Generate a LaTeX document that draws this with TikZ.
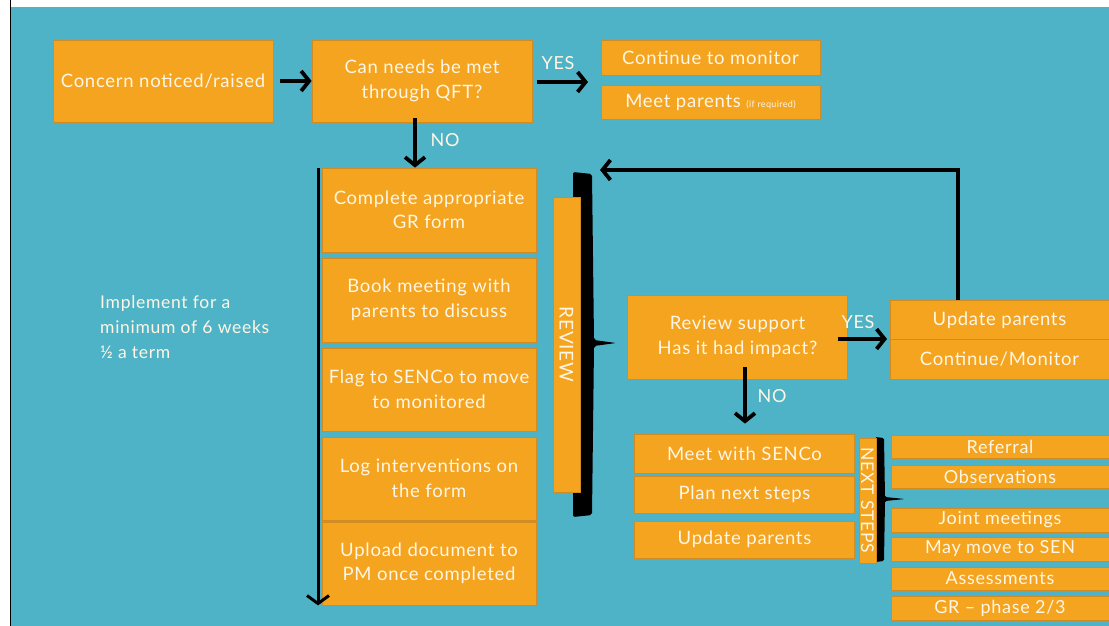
\documentclass[tikz,border=0pt]{standalone}
\usepackage{fontspec}
\setmainfont{Lato}[LetterSpace=4]
\usetikzlibrary{arrows.meta}
\definecolor{teal0}{HTML}{4FB3C7}
\definecolor{orng}{HTML}{F4A41F}
\definecolor{orngd}{HTML}{D08C22}
\definecolor{txt}{HTML}{FFF6E6}
\tikzset{
  box/.style={fill=orng, draw=orngd, line width=0.8pt, text=txt, align=center, inner sep=0pt,
    font=\fontsize{18.5}{24.5}\selectfont},
  sbox/.style={box, minimum width=218pt, font=\fontsize{18}{20}\selectfont},
  vbar/.style={fill=orng, draw=orngd, line width=0.6pt, text=txt, inner sep=0pt, rotate=-90,
    font=\fontsize{19}{20}\selectfont},
  lbl/.style={text=txt, inner sep=0pt, font=\fontsize{18}{20}\selectfont},
  arr/.style={line width=3.8pt, -{Straight Barb[length=8pt,width=20pt]}},
  thinarr/.style={line width=3pt, -{Straight Barb[length=8pt,width=22pt]}},
  brk/.style={fill=black}
}
\begin{document}
\begin{tikzpicture}[x=1pt,y=-1pt]
\useasboundingbox (0,0) rectangle (1109,626);
\fill[white] (0,0) rectangle (1109,626);
\fill[teal0] (11,7) rectangle (1109,626);
\draw[black, line width=1.6pt] (10.5,0) -- (10.5,626);

% brackets
\fill[brk, rounded corners=2pt] (573,172) -- (592,174) -- (594,340) -- (616,343) -- (594,346) -- (592,515) -- (573,517) -- cycle;
\fill[brk, rounded corners=1.5pt] (875,437) -- (884,438) -- (885,497) -- (905,499) -- (885,501) -- (884,561) -- (875,562) -- cycle;

% top row
\node[box, minimum width=220pt, minimum height=82pt] (concern) at (163,81) {Concern noticed/raised};
\node[box, minimum width=220pt, minimum height=82pt] (qft) at (422,81) {Can needs be met\\through QFT?};
\node[box, minimum width=219pt, minimum height=35pt] (cont) at (710.5,57.5) {Continue to monitor};
\node[box, minimum width=219pt, minimum height=34pt] (meet) at (710.5,102) {Meet parents {\fontsize{9}{10}\selectfont (if required)}};

% left column
\node[box, minimum width=214pt, minimum height=84pt] (gr) at (429,210) {Complete appropriate\\GR form};
\node[box, minimum width=214pt, minimum height=84pt] (book) at (429,300) {Book meeting with\\parents to discuss};
\node[box, minimum width=214pt, minimum height=83pt] (flag) at (429,389.5) {Flag to SENCo to move\\to monitored};
\node[box, minimum width=214pt, minimum height=83pt] (log) at (429,478.5) {Log interventions on\\the form};
\node[box, minimum width=214pt, minimum height=83pt] (upload) at (429,563.5) {Upload document to\\PM once completed};

\node[lbl, align=left, anchor=north west, font=\fontsize{17.5}{25}\selectfont] (impl) at (100,295) {Implement for a\\minimum of 6 weeks\\½ a term};

% review
\node[vbar, minimum width=295pt, minimum height=27pt] (review) at (566.5,344.5) {REVIEW};
\node[box, minimum width=220pt, minimum height=84pt] (revsup) at (737.5,337) {Review support\\Has it had impact?};
\node[box, minimum width=219pt, minimum height=39pt] (upd) at (999.5,320) {Update parents};
\node[box, minimum width=219pt, minimum height=40pt] (contmon) at (999.5,359) {Continue/Monitor};

% next steps
\node[box, minimum width=220pt, minimum height=39pt] (senco) at (744.5,453.5) {Meet with SENCo};
\node[box, minimum width=220pt, minimum height=37pt] (plan) at (744.5,494.5) {Plan next steps};
\node[box, minimum width=220pt, minimum height=37pt] (updp) at (744.5,539.5) {Update parents};
\node[vbar, minimum width=125pt, minimum height=17pt, font=\fontsize{17.5}{18}\selectfont] (next) at (867.5,500.5) {NEXT STEPS};

\node[sbox, minimum height=23pt] (referral) at (1000,446.5) {Referral};
\node[sbox, minimum height=23pt] (obs) at (1000,476.5) {Observations};
\node[sbox, minimum height=24pt] (joint) at (1000,520) {Joint meetings};
\node[sbox, minimum height=24pt] (may) at (1000,549) {May move to SEN};
\node[sbox, minimum height=23pt] (assess) at (1000,578.5) {Assessments};
\node[sbox, minimum height=24pt] (grp) at (1000,608) {GR -- phase 2/3};

% labels
\node[lbl] (yes1) at (558,63) {YES};
\node[lbl] (no1) at (445,140) {NO};
\node[lbl] (yes2) at (858,322) {YES};
\node[lbl] (no2) at (772,396) {NO};

% connectors
\coordinate (yestip) at (588,82);
\coordinate (rettip) at (600,170);
\coordinate (yes2tip) at (887,339);
\draw[arr] ([xshift=7pt]concern.east) -- (qft.west);
\draw[arr] ([xshift=5pt,yshift=-1pt]qft.east) -- (yestip);
\draw[arr] ([yshift=4pt]qft.south -| 415,0) -- (gr.north -| 415,0);
\draw[thinarr] (gr.north -| 318,0) -- (upload.south -| 318,0);
\draw[arr] (upd.north -| 958,0) -- (958,170) -- (rettip);
\draw[arr] ([xshift=-10pt,yshift=-2pt]revsup.east) -- (yes2tip);
\draw[arr] ([yshift=12pt]revsup.south -| 745,0) -- ([yshift=10pt]senco.north -| 745,0);
\end{tikzpicture}
\end{document}
